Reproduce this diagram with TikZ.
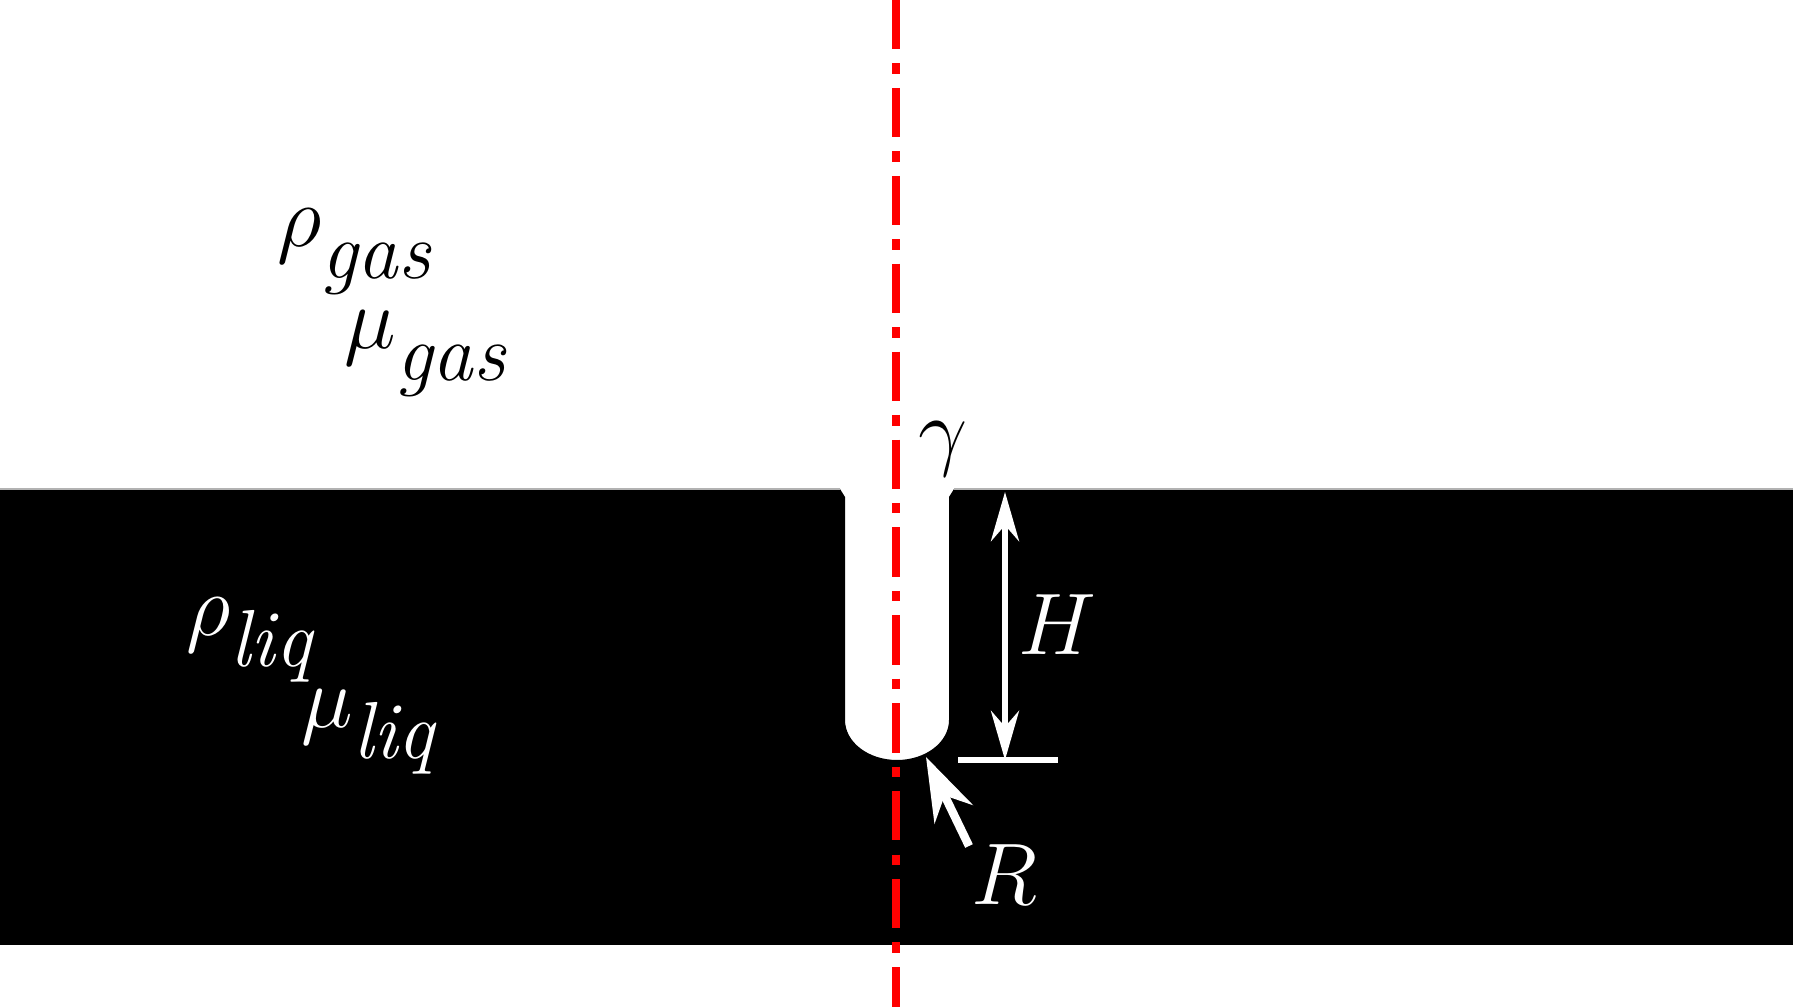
\documentclass[tikz,border=0pt]{standalone}
\usetikzlibrary{arrows.meta}
\newcommand{\subtxt}[1]{\raisebox{-9pt}{\fontsize{23}{26}\selectfont\itshape #1}}
\begin{document}
\begin{tikzpicture}[x=0.01cm,y=-0.01cm]
	\tikzstyle{lbl} = [font={\fontsize{32}{38}\selectfont}, inner sep=1pt]
	\tikzstyle{dim} = [white, line width=1.6pt]

	\useasboundingbox (0,0) rectangle (1793,1007);

	% liquid with groove
	\fill[black] (0,489) -- (840,489) -- (845,497) -- (845,720)
		arc[start angle=180, end angle=360, x radius=52, y radius=-40]
		-- (949,497) -- (954,489) -- (1793,489) -- (1793,945) -- (0,945) -- cycle;
	\draw[gray!60, thin] (0,489) -- (840,489) (954,489) -- (1793,489);

	% axis
	\coordinate (top) at (896,0);
	\coordinate (bot) at (896,1007);
	\draw[red, line width=2.4pt, dash pattern=on 14pt off 4pt on 3pt off 4pt] (top) -- (bot);

	% dimensions
	\coordinate (h1) at (1005,492);
	\coordinate (h2) at (1005,760);
	\coordinate (b1) at (958,760);
	\coordinate (b2) at (1058,760);
	\draw[dim, {Stealth[length=14pt,width=8pt]}-{Stealth[length=14pt,width=8pt]}] (h1) -- (h2);
	\draw[dim] (b1) -- (b2);
	\node[lbl, text=white] (H) at (1057,625) {$H$};

	\node[lbl, text=white] (R) at (1004,875) {$R$};
	\coordinate (rtip) at (926,757);
	\coordinate (rtail) at (969,846);
	\draw[white, line width=2.4pt, -{Stealth[length=18pt,width=12pt]}] (rtail) -- (rtip);

	\node[lbl] (gamma) at (943,449) {$\gamma$};

	\node[lbl] (rg) at (354,252) {$\rho$\subtxt{gas}};
	\node[lbl] (mg) at (425,354) {$\mu$\subtxt{gas}};
	\node[lbl, text=white] (rl) at (249,640) {$\rho$\subtxt{liq}};
	\node[lbl, text=white] (ml) at (368,732) {$\mu$\subtxt{liq}};
\end{tikzpicture}
\end{document}
